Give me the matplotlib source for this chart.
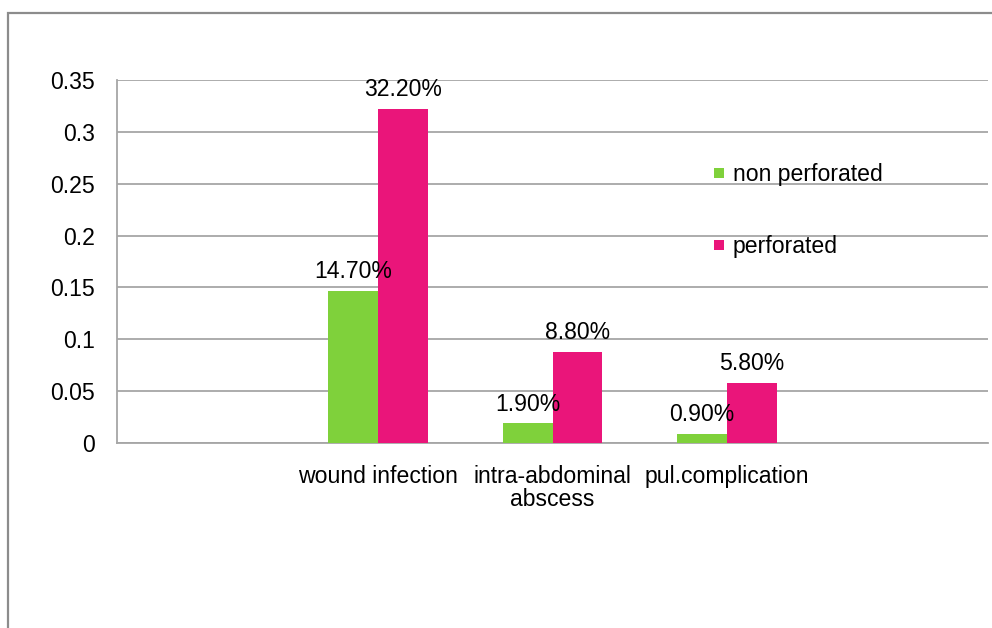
import numpy as np
import matplotlib
matplotlib.use("Agg")
import matplotlib.pyplot as plt
from matplotlib.patches import Rectangle
from matplotlib.lines import Line2D

plt.rcParams['font.family'] = ['Liberation Sans', 'DejaVu Sans']

categories = ["", "wound infection", "intra-abdominal\nabscess", "pul.complication", ""]
non_perforated = [np.nan, 0.147, 0.019, 0.009, np.nan]
perforated = [np.nan, 0.322, 0.088, 0.058, np.nan]
series_names = ["non perforated", "perforated"]
yticks = [0, 0.05, 0.1, 0.15, 0.2, 0.25, 0.3, 0.35]
ytick_labels = ["0", "0.05", "0.1", "0.15", "0.2", "0.25", "0.3", "0.35"]

GREEN = "#7FD13B"
PINK = "#EA157A"
GRID = "#A6A6A6"
FS = 16.6

fig = plt.figure(figsize=(9.92, 6.28), dpi=100)
ax = fig.add_axes([117/992, 1-443/628, (988-117)/992, (443-80)/628])

x = np.arange(len(categories))
w = 0.287
ax.bar(x - w/2, non_perforated, w, color=GREEN, label=series_names[0], zorder=3)
ax.bar(x + w/2, perforated, w, color=PINK, label=series_names[1], zorder=3)

for xs, vals in ((x - w/2, non_perforated), (x + w/2, perforated)):
    for xi, v in zip(xs, vals):
        if np.isnan(v):
            continue
        ax.annotate(f"{v*100:.2f}%", (xi, v), xytext=(0, 5.5), textcoords="offset points",
                    ha="center", va="bottom", fontsize=FS, color="black", zorder=5)

ax.set_xlim(-0.5, len(categories) - 0.5)
ax.set_ylim(0, 0.35)
ax.set_yticks(yticks)
ax.set_yticklabels(ytick_labels)
ax.set_xticks(x)
ax.set_xticklabels(categories, linespacing=1.0)
ax.tick_params(axis="x", length=0, pad=15.5, labelsize=FS)
ax.tick_params(axis="y", length=0, pad=16, labelsize=FS)
ax.yaxis.grid(True, color=GRID, linewidth=1.3, zorder=0)
ax.set_axisbelow(True)
for s in ("top", "right"):
    ax.spines[s].set_visible(False)
for s in ("left", "bottom"):
    ax.spines[s].set_color(GRID)
    ax.spines[s].set_linewidth(1.3)

handles = [Line2D([], [], marker="s", linestyle="none", markersize=7.2, color=GREEN, markeredgewidth=0),
           Line2D([], [], marker="s", linestyle="none", markersize=7.2, color=PINK, markeredgewidth=0)]
fig.legend(handles, series_names, loc="upper left", bbox_to_anchor=(713/992, 1-163/628),
           bbox_transform=fig.transFigure, frameon=False, fontsize=FS, borderpad=0,
           borderaxespad=0, handlelength=0.5, handletextpad=0.35, labelspacing=2.12)

fig.patches.append(Rectangle((8/992, -0.05), 1.2, 1.05 - 13/628, transform=fig.transFigure,
                             fill=False, edgecolor="#8C8C8C", linewidth=1.6, clip_on=False))

fig.savefig("out.png", dpi=100, facecolor="white")
